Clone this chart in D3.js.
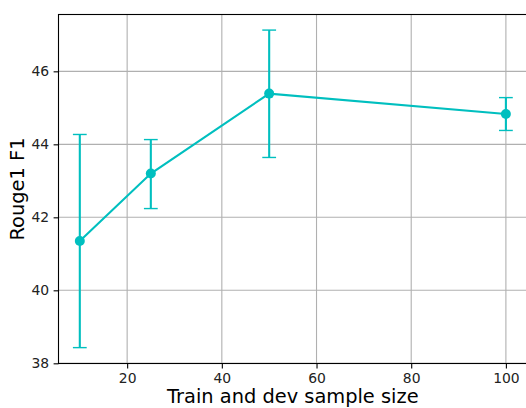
<!DOCTYPE html>
<html>
<head>
<meta charset="utf-8">
<script src="https://cdn.jsdelivr.net/npm/d3@7"></script>
<style>
  html, body { margin: 0; padding: 0; background: #fff; overflow: hidden; }
  svg { display: block; font-family: "DejaVu Sans", sans-serif; }
</style>
</head>
<body>
<script>
const sampleSizes = [10, 25, 50, 100];
const rougeMeans  = [41.35, 43.20, 45.39, 44.83];
const rougeLower  = [38.43, 42.24, 43.64, 44.38];
const rougeUpper  = [44.27, 44.13, 47.13, 45.28];
const xTicks = [20, 40, 60, 80, 100];
const yTicks = [38, 40, 42, 44, 46];
const xLabel = "Train and dev sample size";
const yLabel = "Rouge1 F1";

(function () {
const W = 526, H = 408;
const pL = 58.5, pR = 527.2, pT = 14.5, pB = 363.5;
const color = "#00bfbf";

const svg = d3.select("body").append("svg").attr("width", W).attr("height", H);

const x = d3.scaleLinear().domain([5.5, 104.5]).range([pL, pR]);
const y = d3.scaleLinear().domain([37.995, 47.557]).range([pB, pT]);

// grid
const g = svg.append("g");
g.selectAll(".gx").data(xTicks).join("line")
  .attr("x1", d => x(d)).attr("x2", d => x(d))
  .attr("y1", pT).attr("y2", pB)
  .attr("stroke", "#b0b0b0").attr("stroke-width", 1.1);
g.selectAll(".gy").data(yTicks).join("line")
  .attr("y1", d => y(d)).attr("y2", d => y(d))
  .attr("x1", pL).attr("x2", pR)
  .attr("stroke", "#b0b0b0").attr("stroke-width", 1.1);

// axes
const xAxis = svg.append("g").attr("transform", `translate(0,${pB})`)
  .call(d3.axisBottom(x).tickValues(xTicks).tickSize(4.9).tickPadding(4.5).tickFormat(d3.format("d")));
const yAxis = svg.append("g").attr("transform", `translate(${pL},0)`)
  .call(d3.axisLeft(y).tickValues(yTicks).tickSize(4.9).tickPadding(4.5).tickFormat(d3.format("d")));
[xAxis, yAxis].forEach(a => {
  a.select(".domain").remove();
  a.selectAll("line").attr("stroke", "#000").attr("stroke-width", 1.1);
  a.selectAll("text").attr("fill", "#222").style("font-size", "13.9px").style("font-family", "DejaVu Sans");
});

// frame (spines)
svg.append("rect").attr("x", pL).attr("y", pT)
  .attr("width", pR - pL).attr("height", pB - pT)
  .attr("fill", "none").attr("stroke", "#000").attr("stroke-width", 1.1);

// data
const data = sampleSizes.map((s, i) => ({s, m: rougeMeans[i], lo: rougeLower[i], hi: rougeUpper[i]}));
const cap = 6.9;
const eb = svg.append("g");
eb.selectAll(".v").data(data).join("line")
  .attr("x1", d => x(d.s)).attr("x2", d => x(d.s))
  .attr("y1", d => y(d.lo)).attr("y2", d => y(d.hi))
  .attr("stroke", color).attr("stroke-width", 2.1);
["lo", "hi"].forEach(k => {
  eb.selectAll(".c" + k).data(data).join("line")
    .attr("x1", d => x(d.s) - cap).attr("x2", d => x(d.s) + cap)
    .attr("y1", d => y(d[k])).attr("y2", d => y(d[k]))
    .attr("stroke", color).attr("stroke-width", 1.4);
});
svg.append("path").datum(data)
  .attr("d", d3.line().x(d => x(d.s)).y(d => y(d.m)))
  .attr("fill", "none").attr("stroke", color).attr("stroke-width", 2.1);
svg.selectAll(".pt").data(data).join("circle")
  .attr("cx", d => x(d.s)).attr("cy", d => y(d.m)).attr("r", 5)
  .attr("fill", color);

// labels
svg.append("text").attr("x", (pL + pR) / 2).attr("y", 403)
  .attr("text-anchor", "middle").style("font-size", "19.4px").attr("fill", "#000")
  .text(xLabel);
svg.append("text").attr("transform", `translate(24,${(pT + pB) / 2}) rotate(-90)`)
  .attr("text-anchor", "middle").style("font-size", "19.4px").attr("fill", "#000")
  .text(yLabel);
})();
</script>
</body>
</html>
